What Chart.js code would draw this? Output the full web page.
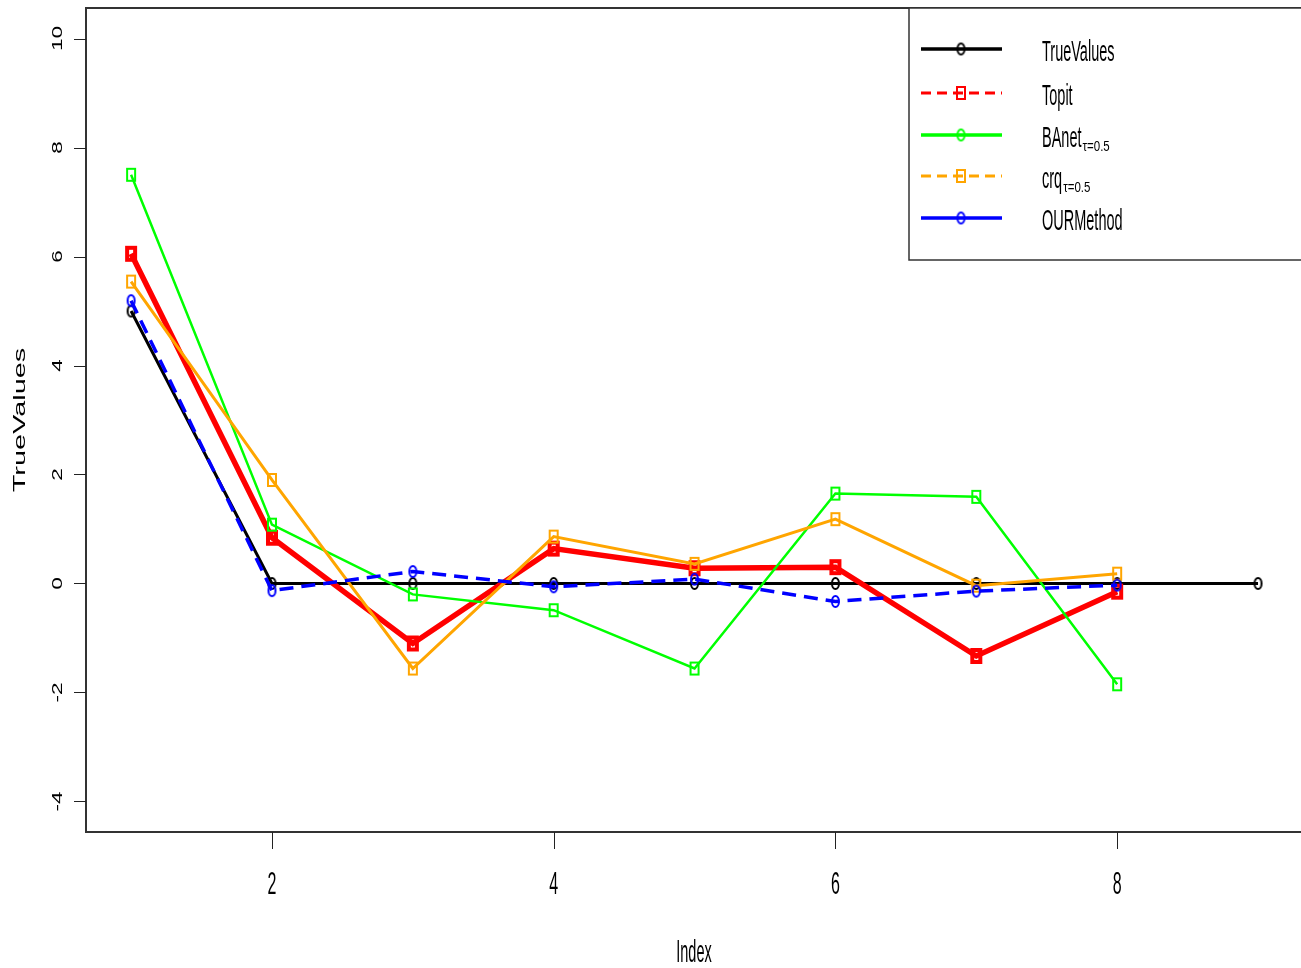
<!DOCTYPE html>
<html>
<head>
<meta charset="utf-8">
<script src="https://cdn.jsdelivr.net/npm/chart.js@4.4.1/dist/chart.umd.min.js"></script>
<style>
  html, body { margin: 0; padding: 0; background: #ffffff; }
  canvas { display: block; }
</style>
</head>
<body>
<canvas id="chart" width="1301" height="968"></canvas>
<script>
'use strict';

// values
const indexes = [1, 2, 3, 4, 5, 6, 7, 8, 9];
const trueValues = [5, 0, 0, 0, 0, 0, 0, 0, 0];
const topit = [6.05, 0.84, -1.10, 0.64, 0.28, 0.30, -1.33, -0.15];
const banet = [7.50, 1.08, -0.20, -0.49, -1.56, 1.65, 1.59, -1.85];
const crq = [5.54, 1.90, -1.56, 0.86, 0.36, 1.18, -0.04, 0.18];
const ourMethod = [5.19, -0.13, 0.22, -0.06, 0.08, -0.33, -0.14, -0.03];

const xTicks = [2, 4, 6, 8];
const yTicks = [-4, -2, 0, 2, 4, 6, 8, 10];
const xTitle = 'Index';
const yTitle = 'TrueValues';

/**
 * Small offscreen marker (R pch 0 / pch 1, stretched vertically like the reference)
 */
function makeMarker(shape, color, w, h, lw, fill) {
  const c = document.createElement('canvas');
  c.width = Math.ceil(w + lw * 2);
  c.height = Math.ceil(h + lw * 2);
  const g = c.getContext('2d');
  g.strokeStyle = color;
  g.fillStyle = color;
  g.lineWidth = lw;
  const cx = c.width / 2, cy = c.height / 2;
  g.beginPath();
  if (shape === 'circle') {
    g.ellipse(cx, cy, w / 2, h / 2, 0, 0, Math.PI * 2);
  } else {
    g.rect(cx - w / 2, cy - h / 2, w, h);
  }
  if (fill) g.fill();
  g.stroke();
  return c;
}

const mk = {
  black: makeMarker('circle', '#000000', 7, 11, 2),
  red: makeMarker('rect', '#ff0000', 8, 12, 4),
  green: makeMarker('rect', '#00ff00', 8, 12, 2),
  orange: makeMarker('rect', '#ffa500', 8, 12, 2),
  blue: makeMarker('circle', '#0000ff', 7, 11, 2),
  redOpen: makeMarker('rect', '#ff0000', 8, 12, 2),
  greenCircle: makeMarker('circle', '#00ff00', 7, 11, 2)
};

const toPoints = vals => vals.map((v, i) => ({ x: indexes[i], y: v }));

const legendItems = [
  { text: 'TrueValues', sub: '', color: '#000000', dash: [], width: 3.5, marker: mk.black },
  { text: 'Topit', sub: '', color: '#ff0000', dash: [10, 6], width: 3, marker: mk.redOpen },
  { text: 'BAnet', sub: '\u03C4=0.5', color: '#00ff00', dash: [], width: 3.5, marker: mk.greenCircle },
  { text: 'crq', sub: '\u03C4=0.5', color: '#ffa500', dash: [10, 6], width: 3, marker: mk.orange },
  { text: 'OURMethod', sub: '', color: '#0000ff', dash: [], width: 3.5, marker: mk.blue }
];

// draw text squeezed/stretched, the reference has non-uniform scaling
function drawText(ctx, text, x, y, size, sx, sy, align, baseline, rot) {
  ctx.save();
  ctx.translate(x, y);
  if (rot) ctx.rotate(rot);
  ctx.scale(sx, sy);
  ctx.font = size + 'px "Liberation Sans", Arial, sans-serif';
  ctx.fillStyle = '#000000';
  ctx.textAlign = align;
  ctx.textBaseline = baseline;
  ctx.fillText(text, 0, 0);
  ctx.restore();
}

const rAxes = {
  id: 'rAxes',
  afterDatasetsDraw(chart) {
    const ctx = chart.ctx;
    const area = chart.chartArea;
    const xs = chart.scales.x, ys = chart.scales.y;

    ctx.save();
    // plot box (right edge falls just outside the picture)
    ctx.strokeStyle = '#333333';
    ctx.lineWidth = 2;
    ctx.strokeRect(area.left, area.top, area.right - area.left + 4, area.bottom - area.top);

    // ticks
    ctx.lineWidth = 1;
    ctx.strokeStyle = '#222222';
    ctx.beginPath();
    xTicks.forEach(t => {
      const px = Math.round(xs.getPixelForValue(t)) + 0.5;
      ctx.moveTo(px, area.bottom);
      ctx.lineTo(px, area.bottom + 17);
    });
    yTicks.forEach(t => {
      const py = Math.round(ys.getPixelForValue(t)) + 0.5;
      ctx.moveTo(area.left, py);
      ctx.lineTo(area.left - 12, py);
    });
    ctx.stroke();

    xTicks.forEach(t => {
      drawText(ctx, String(t), xs.getPixelForValue(t), 894, 16, 1, 1.95, 'center', 'alphabetic');
    });
    yTicks.forEach(t => {
      drawText(ctx, String(t), 58, ys.getPixelForValue(t), 15, 1.5, 1, 'center', 'middle', -Math.PI / 2);
    });

    drawText(ctx, xTitle, 694, 962, 14.5, 1, 2.1, 'center', 'alphabetic');
    drawText(ctx, yTitle, 20, (area.top + area.bottom) / 2, 16.5, 1.75, 1, 'center', 'middle', -Math.PI / 2);

    // legend box
    ctx.fillStyle = '#ffffff';
    ctx.fillRect(909, area.top, 400, 252);
    ctx.strokeStyle = '#333333';
    ctx.lineWidth = 1.5;
    ctx.strokeRect(909, area.top, 400, 252);

    const rowY = [49, 93, 135, 176, 218];
    legendItems.forEach((item, i) => {
      const y = rowY[i];
      ctx.save();
      ctx.strokeStyle = item.color;
      ctx.lineWidth = item.width;
      ctx.setLineDash(item.dash);
      ctx.beginPath();
      ctx.moveTo(921, y);
      ctx.lineTo(1002, y);
      ctx.stroke();
      ctx.restore();
      const m = item.marker;
      ctx.drawImage(m, 961 - m.width / 2, y - m.height / 2);

      drawText(ctx, item.text, 1042, y + 12, 14.5, 1, 2.05, 'left', 'alphabetic');
      if (item.sub) {
        ctx.save();
        ctx.font = '14.5px "Liberation Sans", Arial, sans-serif';
        const w = ctx.measureText(item.text).width;
        ctx.restore();
        drawText(ctx, item.sub, 1042 + w + 1, y + 16, 11.5, 1, 1.3, 'left', 'alphabetic');
      }
    });
    ctx.restore();
  }
};

function line(label, vals, color, width, dash, marker, order) {
  return {
    label: label,
    data: toPoints(vals),
    borderColor: color,
    backgroundColor: color,
    borderWidth: width,
    borderDash: dash,
    pointStyle: marker,
    pointRadius: 5,
    tension: 0,
    fill: false,
    order: order
  };
}

const ctx = document.getElementById('chart').getContext('2d');
new Chart(ctx, {
  type: 'line',
  data: {
    datasets: [
      line('TrueValues', trueValues, '#000000', 3, [], mk.black, 5),
      line('Topit', topit, '#ff0000', 5.5, [], mk.red, 4),
      line('BAnet', banet, '#00ff00', 2.5, [], mk.green, 3),
      line('crq', crq, '#ffa500', 3, [], mk.orange, 2),
      line('OURMethod', ourMethod, '#0000ff', 3.5, [14, 8], mk.blue, 1)
    ]
  },
  options: {
    responsive: false,
    animation: false,
    events: [],
    layout: { autoPadding: false, padding: { left: 86, top: 8, right: 0, bottom: 136 } },
    plugins: {
      legend: { display: false },
      tooltip: { enabled: false }
    },
    scales: {
      x: { type: 'linear', display: false, min: 0.68, max: 9.305 },
      y: { type: 'linear', display: false, min: -4.56, max: 10.56 }
    }
  },
  plugins: [rAxes]
});
</script>
</body>
</html>
